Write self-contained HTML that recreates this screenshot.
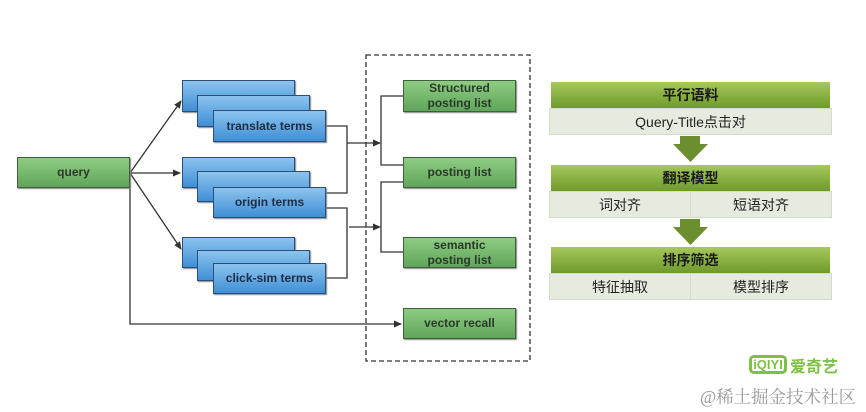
<!DOCTYPE html>
<html><head><meta charset="utf-8"><style>
body{margin:0;width:866px;height:412px;background:#fff;overflow:hidden;position:relative;font-family:"Liberation Sans","Noto Sans CJK SC",sans-serif}
.b{position:absolute;box-sizing:border-box;display:flex;align-items:center;justify-content:center;text-align:center;font-size:12px;font-weight:bold;line-height:15px}
.g{background:linear-gradient(#8fcc84,#5fa55a);border:1px solid #3d5f3a;color:#2a3a2a;box-shadow:1px 1px 1px #888}
.bl{background:linear-gradient(#8cc4ee,#3f8fd6);border:1px solid #2b4f7a;color:#1e2e44;box-shadow:1px 1px 1px #888}
.h{position:absolute;left:551px;width:279px;height:26px;background:linear-gradient(#a6c85c,#6e9a2c);color:#1a1a1a;font-weight:bold;font-size:14px;display:flex;align-items:center;justify-content:center}
.r{position:absolute;height:27px;background:#e6ebe0;border:1px solid #d4dacd;box-sizing:border-box;font-size:14px;color:#222;display:flex;align-items:center;justify-content:center}
</style></head><body>
<svg width="866" height="412" style="position:absolute;left:0;top:0">
<defs><marker id="a" markerWidth="8" markerHeight="8" refX="7" refY="4" orient="auto" markerUnits="userSpaceOnUse"><path d="M0,0.5 L8,4 L0,7.5z" fill="#333"/></marker></defs>
<g stroke="#333" stroke-width="1.3" fill="none">
<rect x="366" y="55" width="164" height="306" stroke-dasharray="5,3"/>
<line x1="130" y1="173" x2="181" y2="101" marker-end="url(#a)"/>
<line x1="130" y1="173" x2="180" y2="173" marker-end="url(#a)"/>
<line x1="130" y1="173" x2="181" y2="249" marker-end="url(#a)"/>
<polyline points="130,173 130,324 401,324" marker-end="url(#a)"/>
<polyline points="326,126 347,126 347,193 326,193"/>
<line x1="347" y1="143" x2="380" y2="143" marker-end="url(#a)"/>
<polyline points="403,96 381,96 381,165 403,165"/>
<polyline points="326,208 347,208 347,278 326,278"/>
<line x1="349" y1="227" x2="380" y2="227" marker-end="url(#a)"/>
<polyline points="403,182 381,182 381,252 403,252"/>
</g>
<path d="M680,136 h20 v8 h8 l-17.5,18 l-17.5,-18 h7z" fill="#6b8e2e"/>
<path d="M680,219 h20 v8 h8 l-17.5,18 l-17.5,-18 h7z" fill="#6b8e2e"/>
</svg>
<div class="b g" style="left:17px;top:157px;width:113px;height:31px">query</div>
<div class="b bl" style="left:182px;top:80px;width:113px;height:32px"></div>
<div class="b bl" style="left:197px;top:95px;width:113px;height:32px"></div>
<div class="b bl" style="left:213px;top:110px;width:113px;height:32px">translate terms</div>
<div class="b bl" style="left:182px;top:157px;width:113px;height:31px"></div>
<div class="b bl" style="left:197px;top:171px;width:113px;height:31px"></div>
<div class="b bl" style="left:213px;top:187px;width:113px;height:31px">origin terms</div>
<div class="b bl" style="left:182px;top:237px;width:113px;height:31px"></div>
<div class="b bl" style="left:197px;top:250px;width:113px;height:31px"></div>
<div class="b bl" style="left:213px;top:263px;width:113px;height:31px">click-sim terms</div>
<div class="b g" style="left:403px;top:80px;width:113px;height:32px">Structured<br>posting list</div>
<div class="b g" style="left:403px;top:157px;width:113px;height:31px">posting list</div>
<div class="b g" style="left:403px;top:237px;width:113px;height:31px">semantic<br>posting list</div>
<div class="b g" style="left:403px;top:308px;width:113px;height:31px">vector recall</div>
<div class="h" style="top:82px">平行语料</div>
<div class="r" style="left:549px;top:108px;width:283px">Query-Title点击对</div>
<div class="h" style="top:165px">翻译模型</div>
<div class="r" style="left:549px;top:191px;width:142px">词对齐</div>
<div class="r" style="left:690px;top:191px;width:142px">短语对齐</div>
<div class="h" style="top:247px">排序筛选</div>
<div class="r" style="left:549px;top:273px;width:142px">特征抽取</div>
<div class="r" style="left:690px;top:273px;width:142px">模型排序</div>
<div style="position:absolute;left:749px;top:355px;width:38px;height:19px;border:3px solid #7cc242;border-radius:5px;box-sizing:border-box;color:#7cc242;font-weight:bold;font-size:13px;line-height:13px;text-align:center">iQIYI</div>
<div style="position:absolute;left:790px;top:353px;color:#7cc242;font-size:16px;font-weight:bold">爱奇艺</div>
<div style="position:absolute;left:700px;top:384px;color:#999;font-size:17.5px;font-family:'Liberation Serif','Noto Serif CJK SC',serif">@稀土掘金技术社区</div>
</body></html>
